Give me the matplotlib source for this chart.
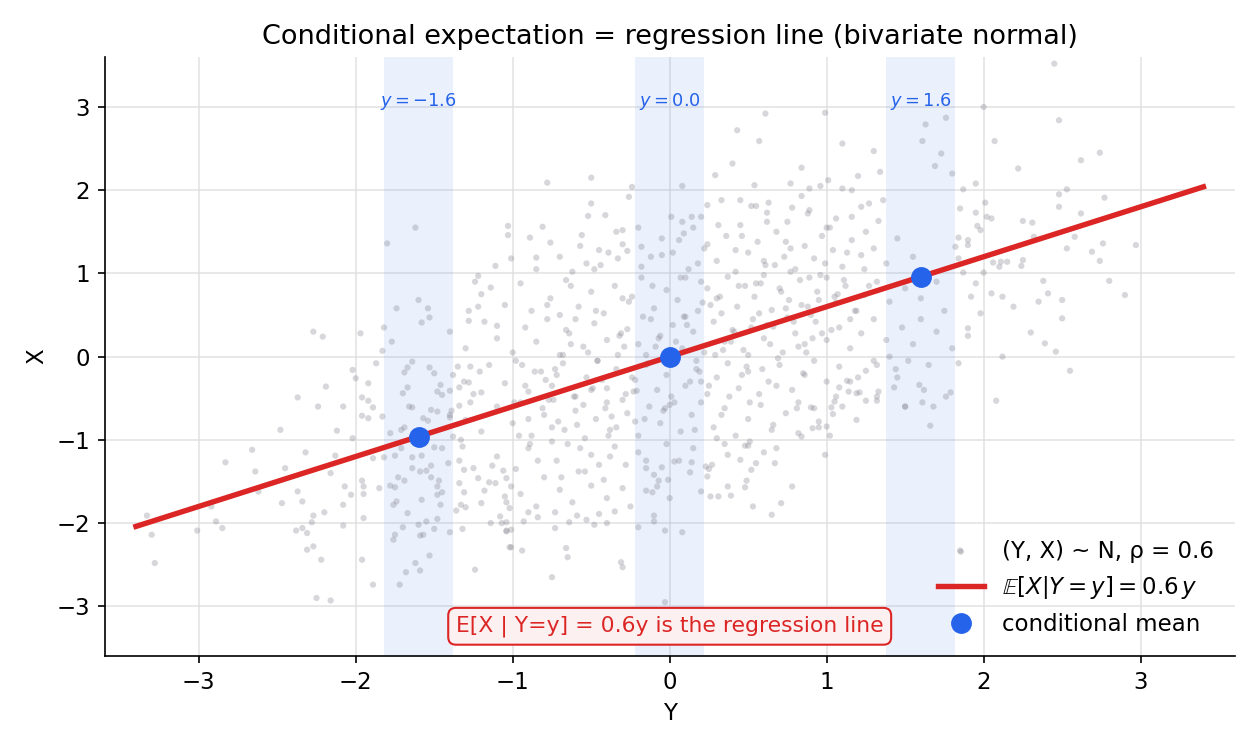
import numpy as np
import matplotlib
matplotlib.use("Agg")
import matplotlib.pyplot as plt

# --- data ---
rho = 0.6
slice_centers = [-1.6, 0.0, 1.6]
slice_half = 0.22
line_y = [-3.4, 3.4]

# scatter sample (Y horizontal, X vertical), estimated by eye
sample_y = [
    -1.62, -1.80, -1.03, -1.03, -2.27, -2.21, -1.97, -1.11, -1.22, -1.24, -1.14, -1.01, -1.60, -1.74,
    -1.54, -1.53, -1.58, -1.28, -1.22, -1.28, -1.10, -1.82, -1.77, -1.83,
    0.61, 0.99, 0.43, 0.57, 1.10, 1.30, 0.40, 0.84, 0.29, 1.34, 1.20, 1.01, -0.78, -0.50, -0.24, -0.26,
    0.08, 0.54, 0.77, 0.96, 1.10, 1.16, -0.50, -0.41, -0.52, -0.89, -0.81, -0.76, -0.34, -0.30, -0.56,
    -0.57, -0.45, -0.39, -0.27, -0.85, -0.53, 0.01, 0.08, 0.14, 0.20, 0.24, 0.33, 0.45, 0.52, 0.55,
    0.63, 0.62, 0.78, 0.84, 0.89, 0.89, 1.22, 1.27, 1.33, 1.06, 1.36,
    2.45, 2.48, 2.00, 2.07, 2.22, 2.62, 2.74, 1.76, 1.63, 1.61, 1.73, 1.69, 1.80, 1.95, 1.87, 2.48,
    2.53, 2.77, 2.01, 2.48, 2.62, 2.02, 2.05, 2.25, 2.31, 1.95, 1.85, 1.96, 1.98, 1.84, 1.90, 1.90,
    2.32, 2.58, 2.97, 2.76, 2.69, 2.53, 2.74, 2.25, 2.15, 2.11, 2.06, 2.10, 2.24, 2.00, 1.87, 1.84,
    1.82, 2.80, 2.38, 2.90, 1.95, 2.05, 2.12, 1.92, 2.41, 2.50, 2.35, 2.19, 1.98, 2.50, 1.90, 2.30,
    2.39, 2.46, 2.12, 2.55, 2.08, 1.84, 1.59, 1.61, 1.50, 1.68, 1.76, 1.79, 1.66, 1.85,
    -3.33, -3.30, -3.28, -3.01, -2.92, -2.89, -2.85, -2.83, -2.66, -2.64, -2.62, -2.48, -2.47, -2.45,
    -2.37, -2.37, -2.34, -2.32, -2.38, -2.34, -2.31, -2.31, -2.27, -2.22, -2.25, -2.16, -2.28, -2.27,
    -2.20, -2.24, -2.19, -2.12, -2.08, -2.16, -2.13, -2.07, -2.08, -2.03, -2.08, -2.02, -2.00, -2.02,
    -1.96, -1.95, -1.95, -1.95, -1.96, -1.89, -1.96, -1.92, -1.89, -1.87, -1.96, -1.92, -1.92, -1.83,
    -1.89, -1.85, -1.82, -1.78, -1.75, -1.75, -1.78, -1.73, -1.69, -1.74, -1.76, -1.70, -1.75, -1.76,
    -1.67, -1.60, -1.55, -1.59, -1.57, -1.50, -1.48, -1.58, -1.53, -1.62, -1.68, -1.59, -1.72, -1.64,
    -1.58, -1.64, -1.59, -1.55, -1.52, -1.52, -1.47, -1.48, -1.48, -1.46, -1.45, -1.41, -1.40, -1.50,
    -1.45, -1.71, -1.71, -1.69, -1.66, -1.64, -1.52, -1.48, -1.57, -1.54, -1.39, -1.40, -1.70, -1.67,
    -1.69, -1.67, -1.64, -1.53, -1.48, -1.46, -1.45, -1.40, -1.38, -1.35, -1.34, -1.34, -1.31, -1.28,
    -1.27, -1.30, -1.33, -1.38, -1.32, -1.34, -1.31, -1.25, -1.34, -1.31, -1.33, -1.30, -1.36, -1.32,
    -1.24, -1.21, -1.20, -1.27, -1.22, -1.20, -1.18, -1.15, -1.11, -1.14, -1.08, -1.07, -1.04, -1.04,
    -1.01, -1.05, -1.04, -1.01, -1.13, -1.06, -1.04,
    -0.75, -0.31, -0.30, -0.66, -0.65, -0.94, -1.02, -1.04, -1.01, -0.73, -0.93, -0.64, -0.53, -0.48,
    -0.40, -0.35, -0.45, -0.59, -0.73, -0.84, -0.90, -1.02, -0.20, -0.10, -0.10, -0.03, 0.08, -0.03,
    -0.15, -0.11, -0.07, -0.01, -0.08, -0.15, -0.05, 0.03, 0.13, 0.14, 0.24, 0.26, 0.31, 0.39, 0.37,
    0.27, 0.45, 0.49, 0.48, 0.52, 0.55, 0.53, 0.65, 0.71, 0.78, 0.67, 0.68, 0.48, 0.50, 0.99, 0.84,
    0.82, 0.91, 1.00, 1.02, 1.19, 1.04, 1.03, 1.05, 0.90, 0.92, 1.25, 1.32, 1.32, 1.50, 1.43, 1.44,
    1.33, 1.19, 1.21, 1.25, 1.32, 1.13, 1.15, 1.08, 1.14,
    -0.85, -0.70, -0.62, -0.44, -0.30, -0.18, -0.05, 0.06, 0.12, 0.22, 0.30, 0.36, 0.42, 0.50, 0.56,
    0.61, 0.68, 0.73, 0.80, 0.86, 0.92, 0.97, 1.04, 1.10, 1.16, 1.22, 1.30, 1.38, 1.45, 1.55, 0.15,
    0.45, 0.75, 1.00, 1.25, -0.20,
    -1.20, -1.05, -0.95, -0.88, -0.76, -0.66, -0.58, -0.50, -0.42, -0.35, -0.26, -0.18, -0.10, -0.02,
    0.05, 0.10, 0.18, 0.24, 0.30, 0.37, 0.43, 0.48, 0.54, 0.60, 0.65, 0.70, 0.76, 0.83, 0.88, 0.94,
    1.00, 1.06, 1.12, 1.18, 1.24, 1.32, 1.40, 1.50, 1.60, 1.70, 0.33, 0.90, -0.70, 0.58, 0.20,
    -1.40, -1.30, -1.18, -1.10, -1.00, -0.92, -0.85, -0.78, -0.70, -0.64, -0.55, -0.48, -0.40, -0.33,
    -0.27, -0.20, -0.12, -0.06, 0.02, 0.08, 0.15, 0.22, 0.28, 0.35, 0.40, 0.47, 0.53, 0.60, 0.66,
    0.72, 0.80, 0.86, 0.93, 1.00, 1.08, 1.15, 1.22, 1.30, 1.38, 1.48, -0.60, 0.10, 0.50, -0.15, 0.75,
    -1.50, -1.25, -1.15, -1.05, -0.98, -0.90, -0.82, -0.75, -0.68, -0.60, -0.53, -0.46, -0.40, -0.34,
    -0.28, -0.22, -0.15, -0.08, -0.02, 0.04, 0.10, 0.17, 0.24, 0.30, 0.37, 0.44, 0.50, 0.57, 0.63,
    0.70, 0.78, 0.85, 0.92, 1.00, 1.08, 1.20, 1.30, -0.50, 0.20, -0.72,
    -1.40, -1.20, -1.10, -1.00, -0.95, -0.88, -0.80, -0.74, -0.67, -0.60, -0.54, -0.47, -0.40, -0.34,
    -0.27, -0.20, -0.13, -0.06, 0.00, 0.07, 0.14, 0.20, 0.28, 0.35, 0.42, 0.50, 0.58, 0.65, 0.74,
    0.82, 0.95, 1.10, -0.90, -0.30, 0.30,
    -1.10, -0.98, -0.90, -0.80, -0.72, -0.65, -0.58, -0.50, -0.42, -0.35, -0.28, -0.20, -0.10, -0.02,
    0.06, 0.15, 0.25, 0.35, 0.60, -0.75, -0.45, -0.15,
    -0.95, -0.85, -0.70, -0.62, -0.50, -0.40, -0.30, -0.25, 0.00, 0.20,
    1.40, 1.55, 1.65, 1.45, 1.70, 1.80, 1.60, 1.75, 1.90, 1.62, 1.52,
    # denser core
    -0.92, -0.81, -0.73, -0.61, -0.52, -0.43, -0.37, -0.29, -0.21, -0.14, -0.07, 0.03, 0.11, 0.19,
    0.26, 0.34, 0.41, 0.49, 0.57, 0.64, 0.71, 0.79, 0.87, 0.95, 1.03, 1.11, 1.19, 1.27,
    -0.96, -0.86, -0.77, -0.68, -0.59, -0.49, -0.41, -0.32, -0.24, -0.16, -0.09, 0.01, 0.09, 0.17,
    0.25, 0.32, 0.39, 0.46, 0.55, 0.62, 0.69, 0.77, 0.84, 0.91, 0.99, 1.07, 1.15, 1.24,
    -0.99, -0.89, -0.79, -0.71, -0.63, -0.55, -0.46, -0.38, -0.31, -0.23, -0.17, -0.04, 0.04, 0.13,
    0.21, 0.29, 0.38, 0.44, 0.52, 0.59, 0.67, 0.74, 0.82, 0.89, 0.97, 1.05, 1.13,
    -0.94, -0.84, -0.75, -0.66, -0.57, -0.47, -0.39, -0.30, -0.22, -0.12, -0.03, 0.07, 0.16, 0.24,
    0.33, 0.42, 0.51, 0.60, 0.68, 0.77, 0.86, 0.96, 1.06,
    -0.78, -0.63, -0.48, -0.33, -0.18, -0.05, 0.09, 0.23, 0.37, 0.51, 0.66, 0.81, 0.95,
    -0.69, -0.54, -0.38, -0.24, -0.11, 0.02, 0.18, 0.31, 0.46, 0.62, 0.74, 0.88, 1.02, 1.16,
]
sample_x = [
    1.55, 1.36, 1.57, 1.46, 0.30, 0.24, 0.28, 1.09, 0.97, 0.90, 0.83, 1.18, 0.68, 0.58,
    0.58, 0.47, 0.41, 0.55, 0.60, 0.43, 0.37, 0.35, 0.18, 0.07,
    2.92, 2.93, 2.72, 2.59, 2.56, 2.47, 2.32, 2.27, 2.18, 2.22, 2.17, 2.12, 2.09, 2.15, 2.04, 1.92,
    2.05, 2.06, 2.08, 2.05, 2.02, 2.00, 1.84, 1.70, 1.69, 1.43, 1.56, 1.37, 1.50, 1.52, 1.46,
    1.33, 1.28, 1.25, 1.27, 1.19, 1.12, 1.68, 1.62, 1.68, 1.68, 1.82, 1.88, 1.88, 1.81, 1.81,
    1.85, 1.73, 1.79, 1.93, 1.76, 2.02, 1.80, 1.84, 1.63, 1.66, 1.88,
    3.52, 2.84, 3.00, 2.59, 2.26, 2.36, 2.45, 2.87, 2.79, 2.59, 2.44, 2.29, 2.20, 2.08, 2.01, 1.95,
    2.01, 1.91, 1.85, 1.80, 1.72, 1.68, 1.66, 1.63, 1.61, 1.73, 1.78, 1.57, 1.52, 1.43, 1.40, 1.34,
    1.44, 1.44, 1.34, 1.36, 1.26, 1.30, 1.15, 1.16, 1.14, 1.14, 1.13, 1.08, 1.09, 1.01, 1.01, 1.18,
    1.32, 0.91, 0.91, 0.74, 0.88, 0.76, 0.72, 0.72, 0.76, 0.68, 0.66, 0.60, 0.52, 0.46, 0.34, 0.29,
    0.16, 0.06, 0.00, -0.17, -0.53, -0.08, -0.34, -0.55, -0.60, -0.60, -0.48, -0.43, -0.83, -2.33,
    -1.91, -2.14, -2.48, -2.09, -1.80, -1.98, -2.06, -1.27, -1.12, -1.38, -1.62, -0.88, -1.76, -1.34,
    -0.49, -1.62, -1.74, -1.15, -2.09, -2.06, -2.12, -2.32, -2.28, -2.44, -2.90, -2.93, -1.99, -1.91,
    -1.87, -0.60, -0.36, -0.89, -0.60, -1.40, -1.19, -1.56, -1.78, -1.66, -2.03, -0.16, -0.26, -0.98,
    -1.49, -1.56, -1.65, -1.94, -2.44, -2.74, -0.71, -0.74, -0.61, -0.08, -0.49, -0.53, -0.32, -0.72,
    -1.22, -1.58, -1.21, -0.92, -1.19, -1.57, -1.55, -1.45, -1.49, -1.74, -1.78, -2.05, -2.14, -2.20,
    -1.88, -2.02, -1.98, -2.15, -2.14, -2.07, -1.95, -1.72, -2.39, -2.48, -2.59, -2.57, -2.74, -1.21,
    -1.19, -1.34, -1.38, -1.37, -1.31, -1.45, -1.49, -1.56, -1.66, -1.78, -1.63, -1.28, -2.11, -1.09,
    -1.10, -1.10, -0.88, -0.85, -0.60, -0.61, -0.64, -0.66, -0.74, -0.77, -0.65, -0.73, -0.44, -0.37,
    -0.19, -0.13, -0.06, -0.13, -0.42, -0.34, -0.46, -0.41, -0.22, -0.12, -0.37, -0.59, -0.30, -0.31,
    -0.55, -0.76, -1.00, -0.96, -1.08, -1.25, -1.36, -1.34, -1.52, -1.63, -1.78, -1.81, -1.85, -2.07,
    -2.56, -0.18, -0.43, -0.12, -1.46, -1.76, -1.61, -1.51, -1.52, -2.00, -1.92, -2.00, -1.99, -2.10,
    -2.29, -1.68, -1.75, -1.56, -1.31, -1.37, -1.46,
    -2.65, -2.47, -2.53, -2.30, -2.41, -2.33, -2.29, -2.09, -2.08, -2.06, -1.98, -1.99, -1.96, -2.02,
    -2.00, -1.86, -1.89, -1.91, -1.87, -1.93, -1.87, -1.82, -2.05, -1.91, -1.98, -2.09, -2.11, -2.95,
    -1.61, -1.63, -1.49, -1.48, -1.56, -1.34, -1.33, -1.26, -1.39, -1.27, -1.44, -1.68, -1.68, -1.67,
    -1.56, -1.30, -1.24, -1.49, -1.57, -1.36, -1.28, -1.80, -1.90, -1.76, -1.56, -1.28, -1.10, -1.07,
    -1.07, -1.18, -0.96, -0.92, -0.86, -0.84, -0.95, -0.76, -0.69, -0.61, -0.54, -0.61, -0.62, -0.53,
    -0.53, -0.48, -0.60, -0.37, -0.15, -0.42, -0.44, -0.43, -0.17, -0.10, -0.29, -0.30, -0.37, -0.42,
    1.05, 1.20, 1.02, 1.10, 1.35, 1.08, 1.22, 1.40, 1.05, 1.30, 1.15, 1.45, 1.02, 1.25, 1.38,
    1.10, 1.50, 1.20, 1.05, 1.33, 1.18, 1.45, 1.28, 1.08, 1.40, 1.22, 1.30, 1.12, 1.42, 1.20, 1.55,
    1.58, 1.62, 1.55, 1.50, 1.55,
    0.75, 0.62, 0.88, 0.55, 0.70, 0.92, 0.60, 0.78, 0.52, 0.85, 0.66, 0.95, 0.58, 0.80,
    0.68, 0.95, 0.55, 0.82, 0.70, 0.96, 0.60, 0.85, 0.72, 0.98, 0.56, 0.82, 0.68, 0.92, 0.60, 0.78,
    0.95, 0.65, 0.85, 0.55, 0.74, 0.90, 0.66, 0.82, 0.70, 0.90, 0.52, 0.50, 0.50, 0.88, 0.90,
    0.30, 0.10, 0.42, 0.22, 0.05, 0.35, 0.18, 0.45, 0.02, 0.28, 0.12, 0.40, 0.20, 0.02,
    0.33, 0.15, 0.45, 0.25, 0.38, 0.10, 0.30, 0.05, 0.42, 0.18, 0.32, 0.08, 0.45, 0.22, 0.36,
    0.05, 0.28, 0.15, 0.42, 0.20, 0.35, 0.10, 0.28, 0.45, 0.20, 0.35, 0.45, 0.48, 0.02, 0.02, 0.47,
    -0.20, -0.45, -0.10, -0.32, -0.05, -0.42, -0.18, -0.35, -0.08, -0.48, -0.25, -0.05, -0.38, -0.15,
    -0.45, -0.28, -0.10, -0.40, -0.22, -0.05, -0.35, -0.15, -0.45, -0.25, -0.08, -0.38, -0.18, -0.45,
    -0.30, -0.10, -0.40, -0.20, -0.05, -0.30, -0.12, -0.25, -0.05, -0.40, -0.30, -0.22,
    -0.70, -0.90, -0.60, -0.80, -0.55, -0.95, -0.70, -0.52, -0.88, -0.65, -0.98, -0.75, -0.55, -0.85,
    -0.68, -0.95, -0.60, -0.80, -0.58, -0.90, -0.70, -0.55, -0.85, -0.62, -0.95, -0.75, -0.58, -0.88,
    -0.68, -0.55, -0.78, -0.60, -0.75, -0.52, -0.98,
    -1.20, -1.35, -1.10, -1.45, -1.25, -1.05, -1.38, -1.18, -1.48, -1.08, -1.30, -1.15, -1.42, -1.05,
    -1.25, -1.10, -1.35, -1.05, -1.15, -1.02, -1.30, -1.25,
    -1.65, -1.80, -1.60, -1.75, -1.55, -1.70, -1.58, -1.80, -1.70, -1.62,
    0.00, 0.15, -0.10, -0.25, 0.30, 0.10, 0.45, 0.55, 0.25, -0.40, -0.05,
    # denser core
    -0.35, -0.62, -0.15, -0.48, 0.05, -0.28, -0.72, 0.12, -0.41, -0.08, 0.22, -0.55, 0.38, -0.18,
    0.62, 0.08, 0.30, -0.12, 0.52, 0.15, 0.78, 0.42, 0.05, 0.68, 0.32, 0.92, 0.55, 0.85,
    -0.95, -0.18, -0.52, 0.02, -0.82, -0.38, -0.62, 0.25, -0.25, -0.75, 0.12, -0.48, 0.48, -0.05,
    -0.35, 0.72, 0.18, -0.22, 0.88, 0.38, -0.02, 1.02, 0.62, 0.22, 1.12, 0.75, 0.45, 1.05,
    -0.55, -1.05, -0.28, -0.78, 0.15, -0.58, -0.05, -0.88, 0.28, -0.42, 0.48, -0.65, 0.18, -0.30,
    0.65, 0.02, -0.48, 0.85, 0.35, -0.15, 1.10, 0.58, 0.12, 0.95, 0.28, 0.72, 1.25,
    -0.10, -1.25, -0.85, 0.32, -1.10, 0.55, -0.95, 0.70, -0.78, 1.20, -0.62, 0.95, -0.88, 1.35,
    -0.70, 1.28, -0.55, 1.15, -0.35, 1.30, -0.22, 0.98, -0.48,
    0.62, 0.85, 1.05, 1.18, 1.32, 1.42, 1.48, -1.32, -1.18, -1.02, -0.82, -0.62, -0.85,
    -1.45, -1.38, -1.20, 0.72, 0.85, 1.25, 1.12, 1.58, 1.45, 1.62, 1.38, 1.72, 1.55, 1.68,
]

# --- figure ---
fig, ax = plt.subplots(figsize=(8.4, 5.0), dpi=150)
fig.subplots_adjust(left=0.083, right=0.98, bottom=0.125, top=0.924)

for c in slice_centers:
    ax.axvspan(c - slice_half, c + slice_half, color="#2563eb", alpha=0.09, lw=0, zorder=1)
    ax.text(c, 2.94, r"$y = %.1f$" % c, color="#2563eb", fontsize=8.5,
            ha="center", va="bottom", zorder=5)

ax.scatter(sample_y, sample_x, s=9, color="#7d7d88", alpha=0.3, edgecolors="none",
           label="(Y, X) ~ N, ρ = 0.6", zorder=2)

ly = np.array(line_y)
ax.plot(ly, rho * ly, color="#dc2626", lw=2.6, zorder=3,
        label=r"$\mathbb{E}[X|Y=y] = 0.6\,y$")

cm = np.array(slice_centers)
ax.plot(cm, rho * cm, "o", color="#2563eb", ms=9, zorder=4, label="conditional mean")

ax.text(0.5, 0.05, "E[X | Y=y] = 0.6y is the regression line", transform=ax.transAxes,
        ha="center", va="center", color="#dc2626", fontsize=10.5,
        bbox=dict(boxstyle="round,pad=0.35", fc="#fdf0f0", ec="#dc2626", lw=1), zorder=6)

ax.set_xlim(-3.6, 3.6)
ax.set_ylim(-3.6, 3.6)
ax.set_xticks([-3, -2, -1, 0, 1, 2, 3])
ax.set_yticks([-3, -2, -1, 0, 1, 2, 3])
ax.grid(True, color="#dddddd", lw=0.8, alpha=0.8, zorder=0)
ax.set_axisbelow(True)
ax.spines["top"].set_visible(False)
ax.spines["right"].set_visible(False)
ax.set_xlabel("Y", fontsize=11)
ax.set_ylabel("X", fontsize=11)
ax.set_title("Conditional expectation = regression line (bivariate normal)", fontsize=13)
ax.tick_params(labelsize=11)

leg = ax.legend(loc="lower right", frameon=False, fontsize=11, markerscale=1.0)

fig.savefig("out.png", dpi=150)
